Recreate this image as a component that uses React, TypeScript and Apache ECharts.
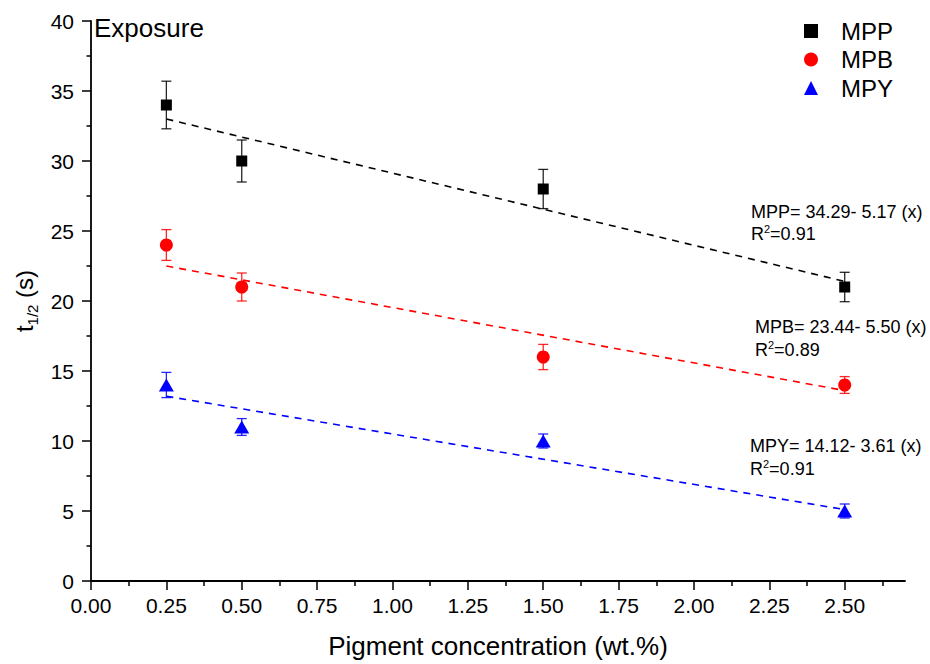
import React, { useEffect, useRef } from "react";
import * as echarts from "echarts";

const concentrations = [0.25, 0.5, 1.5, 2.5];
const mppValues = [34, 30, 28, 21];
const mppErrors = [1.7, 1.5, 1.4, 1.05];
const mpbValues = [24, 21, 16, 14];
const mpbErrors = [1.1, 1.0, 0.9, 0.6];
const mpyValues = [14, 11, 10, 5];
const mpyErrors = [0.9, 0.6, 0.5, 0.5];

const fitX = [0.25, 2.5];
const mppFit = [33.0, 21.4];
const mpbFit = [22.5, 13.6];
const mpyFit = [13.2, 5.1];

const xTicks = [0, 0.25, 0.5, 0.75, 1.0, 1.25, 1.5, 1.75, 2.0, 2.25, 2.5];
const xMinorTicks = [0.125, 0.375, 0.625, 0.875, 1.125, 1.375, 1.625, 1.875, 2.125, 2.375, 2.625];

const seriesNames = ["MPP", "MPB", "MPY"];
const seriesColors = ["#000000", "#ff0000", "#0000ff"];
const equations = ["MPP= 34.29- 5.17 (x)", "MPB= 23.44- 5.50 (x)", "MPY= 14.12- 3.61 (x)"];
const rSquaredValues = ["0.91", "0.89", "0.91"];

const FONT = "'Liberation Sans', Arial, Helvetica, sans-serif";

export default function App() {
  const ref = useRef<HTMLDivElement>(null);

  useEffect(() => {
    document.body.style.margin = "0";
    if (!ref.current) return;
    const chart = echarts.init(ref.current, null, { renderer: "svg" });

    const values = [mppValues, mpbValues, mpyValues];
    const errors = [mppErrors, mpbErrors, mpyErrors];
    const fits = [mppFit, mpbFit, mpyFit];
    const symbols = ["rect", "circle", "triangle"];
    const sizes: any[] = [11, 13, [15, 13]];

    const series: any[] = [];
    seriesNames.forEach((name, i) => {
      const color = seriesColors[i];
      series.push({
        name: name + " fit",
        type: "line",
        data: fitX.map((x, j) => [x, fits[i][j]]),
        showSymbol: false,
        symbol: "none",
        silent: true,
        z: 1,
        lineStyle: { color, width: 1.6, type: [7, 6] },
      });
      series.push({
        name: name + " error",
        type: "custom",
        z: 2,
        silent: true,
        encode: { x: 0, y: [1, 2] },
        data: concentrations.map((x, j) => [x, values[i][j] - errors[i][j], values[i][j] + errors[i][j]]),
        renderItem: (params: any, api: any) => {
          const x = api.value(0);
          const top = api.coord([x, api.value(2)]);
          const bot = api.coord([x, api.value(1)]);
          const hw = 5;
          const style = { stroke: color, lineWidth: 1.3, opacity: 0.85 };
          return {
            type: "group",
            children: [
              { type: "line", shape: { x1: top[0], y1: top[1], x2: bot[0], y2: bot[1] }, style },
              { type: "line", shape: { x1: top[0] - hw, y1: top[1], x2: top[0] + hw, y2: top[1] }, style },
              { type: "line", shape: { x1: bot[0] - hw, y1: bot[1], x2: bot[0] + hw, y2: bot[1] }, style },
            ],
          };
        },
      });
      series.push({
        name,
        type: "scatter",
        z: 3,
        symbol: symbols[i],
        symbolSize: sizes[i],
        itemStyle: { color, opacity: 1 },
        data: concentrations.map((x, j) => [x, values[i][j]]),
      });
    });

    const eqPos = [
      { x: 751, y: 212, ry: 234 },
      { x: 755, y: 327, ry: 350 },
      { x: 750, y: 446, ry: 469 },
    ];
    const graphics: any[] = [
      {
        type: "text",
        x: 94,
        y: 28,
        style: { text: "Exposure", fontSize: 26, fill: "#000", fontFamily: FONT, verticalAlign: "middle" },
      },
    ];
    equations.forEach((eq, i) => {
      graphics.push({
        type: "text",
        x: eqPos[i].x,
        y: eqPos[i].y,
        style: { text: eq, fontSize: 18, fill: "#000", fontFamily: FONT, verticalAlign: "middle" },
      });
      graphics.push({
        type: "text",
        x: eqPos[i].x,
        y: eqPos[i].ry,
        style: {
          text: "{n|R}{sup|2}{n|=" + rSquaredValues[i] + "}",
          fill: "#000",
          fontFamily: FONT,
          fontSize: 18,
          verticalAlign: "middle",
          rich: {
            n: { fontSize: 18, lineHeight: 22, fontFamily: FONT, fill: "#000" },
            sup: { fontSize: 11, lineHeight: 12, verticalAlign: "top", fontFamily: FONT, fill: "#000" },
          },
        },
      });
    });

    const axisLineStyle = { color: "#000", width: 1.8 };

    chart.setOption({
      animation: false,
      backgroundColor: "#ffffff",
      grid: { left: 91, right: 25, top: 21, bottom: 81, containLabel: false },
      legend: {
        orient: "vertical",
        left: 799,
        top: 14,
        itemWidth: 14,
        itemHeight: 14,
        itemGap: 4.5,
        selectedMode: false,
        data: [
          { name: "MPP", icon: "rect" },
          { name: "MPB", icon: "circle" },
          { name: "MPY", icon: "triangle" },
        ],
        textStyle: { fontSize: 24, color: "#000", fontFamily: FONT, lineHeight: 24, padding: [0, 0, 0, 18] },
      },
      xAxis: [
        {
          type: "value",
          min: 0,
          max: 2.7,
          interval: 0.25,
          position: "bottom",
          name: "Pigment concentration (wt.%)",
          nameLocation: "middle",
          nameGap: 52,
          nameTextStyle: { fontSize: 26, color: "#000", fontFamily: FONT },
          axisLine: { show: true, lineStyle: axisLineStyle },
          axisTick: { show: true, length: 9, customValues: xTicks, lineStyle: { color: "#000", width: 1.5 } },
          axisLabel: {
            customValues: xTicks,
            fontSize: 21,
            color: "#000",
            fontFamily: FONT,
            margin: 14,
            formatter: (v: number) => Number(v).toFixed(2),
          },
          splitLine: { show: false },
        },
        {
          type: "value",
          min: 0,
          max: 2.7,
          interval: 0.25,
          position: "bottom",
          axisLine: { show: false },
          axisTick: { show: true, length: 5, customValues: xMinorTicks, lineStyle: { color: "#000", width: 1.5 } },
          axisLabel: { show: false },
          splitLine: { show: false },
        },
      ],
      yAxis: {
        type: "value",
        min: 0,
        max: 40,
        interval: 5,
        name: "{t|t}{s|1/2}{t| (s)}",
        nameLocation: "middle",
        nameRotate: 90,
        nameGap: 50,
        nameTextStyle: {
          color: "#000",
          fontFamily: FONT,
          rich: {
            t: { fontSize: 24, lineHeight: 30, fontFamily: FONT, color: "#000" },
            s: { fontSize: 15, lineHeight: 15, verticalAlign: "bottom", fontFamily: FONT, color: "#000" },
          },
        },
        axisLine: { show: true, lineStyle: axisLineStyle },
        axisTick: { show: true, length: 9, lineStyle: { color: "#000", width: 1.5 } },
        minorTick: { show: true, splitNumber: 2, length: 4.5, lineStyle: { color: "#000", width: 1.5 } },
        axisLabel: { fontSize: 21, color: "#000", fontFamily: FONT, margin: 17 },
        splitLine: { show: false },
      },
      graphic: graphics,
      series,
    });

    return () => chart.dispose();
  }, []);

  return <div ref={ref} style={{ width: 930, height: 664 }} />;
}
